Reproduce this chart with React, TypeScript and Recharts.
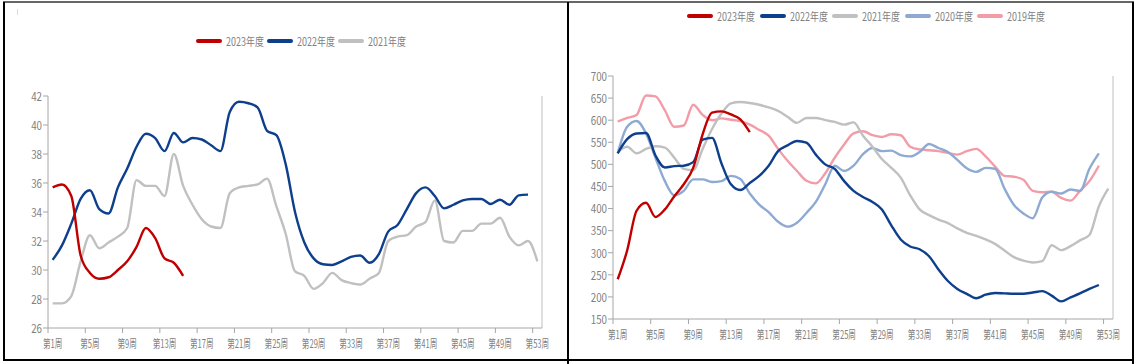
import { Line, LineChart, ReferenceLine, XAxis, YAxis } from "recharts";

// weeks 1..53, labels every 4 weeks
const weeks = Array.from({ length: 53 }, (_, i) => i + 1);
const weekTicks = [1, 5, 9, 13, 17, 21, 25, 29, 33, 37, 41, 45, 49, 53];

// left chart (price)
const leftYTicks = [26, 28, 30, 32, 34, 36, 38, 40, 42];
const left2023 = [35.7, 35.9, 35.1, 31.0, 29.8, 29.4, 29.5, 30.0, 30.6, 31.6, 32.9, 32.2, 30.8, 30.5, 29.6];
const left2022 = [
  30.7, 31.7, 33.2, 34.9, 35.5, 34.2, 33.9, 35.7, 37.0, 38.5,
  39.4, 39.1, 38.2, 39.45, 38.8, 39.1, 39.0, 38.6, 38.2, 40.9,
  41.6, 41.5, 41.2, 39.6, 39.3, 37.3, 34.0, 31.9, 30.8, 30.4,
  30.35, 30.6, 30.9, 31.0, 30.5, 31.1, 32.65, 33.1, 34.2, 35.3,
  35.7, 35.1, 34.25, 34.5, 34.8, 34.9, 34.9, 34.55, 34.85, 34.5,
  35.15, 35.2,
];
const left2021 = [
  27.7, 27.7, 28.2, 30.6, 32.4, 31.5, 31.9, 32.3, 32.9, 36.2,
  35.8, 35.8, 35.1, 38.0, 35.8, 34.5, 33.5, 33.0, 32.9, 35.3,
  35.7, 35.8, 35.9, 36.3, 34.4, 32.5, 29.9, 29.6, 28.7, 29.1,
  29.8, 29.3, 29.1, 29.0, 29.4, 29.8, 32.0, 32.3, 32.4, 33.0,
  33.3, 34.8, 32.0, 31.9, 32.7, 32.7, 33.2, 33.2, 33.6, 32.3,
  31.7, 32.0, 30.6,
];

// right chart (volume)
const rightYTicks = [150, 200, 250, 300, 350, 400, 450, 500, 550, 600, 650, 700];
const right2023 = [240, 305, 395, 413, 381, 398, 428, 455, 492, 568, 617, 620, 613, 602, 573];
const right2022 = [
  525, 557, 570, 571, 520, 493, 496, 497, 505, 556,
  560, 502, 455, 442, 458, 474, 497, 530, 543, 553,
  549, 522, 500, 490, 462, 440, 426, 415, 398, 362,
  330, 314, 308, 292, 262, 236, 218, 207, 197, 205,
  209, 208, 207, 207, 210, 213, 203, 190, 199, 208,
  218, 227,
];
const right2021 = [
  528, 540, 525, 535, 541, 538, 515, 490, 487, 535,
  580, 615, 638, 641, 639, 635, 629, 621, 608, 594,
  605, 605, 600, 596, 590, 595, 565, 540, 512, 492,
  470, 430, 398, 385, 375, 367, 355, 345, 338, 330,
  320, 305, 290, 282, 278, 281, 317, 306, 315, 328,
  340, 405, 445,
];
const right2020 = [
  525, 585, 598, 570, 515, 462, 430, 440, 466, 466,
  460, 462, 474, 467, 434, 409, 392, 370, 359, 368,
  390, 415, 455, 497, 485, 497, 523, 537, 530, 531,
  521, 518, 528, 546, 537, 528, 510, 491, 483, 492,
  490, 445, 408, 389, 378, 425, 438, 434, 443, 440,
  490, 525,
];
const right2019 = [
  597, 605, 612, 656, 654, 622, 585, 588, 635, 612,
  600, 604, 601, 598, 590, 578, 565, 535, 508, 485,
  463, 457, 480, 515, 545, 570, 575, 566, 562, 568,
  566, 540, 534, 532, 530, 526, 522, 530, 535, 518,
  495, 474, 472, 465, 440, 437, 438, 424, 418, 440,
  462, 497,
];

const RED = "#c00000";
const BLUE = "#0e3f8c";
const GRAY = "#c0c0c0";
const LIGHTBLUE = "#8eaad2";
const PINK = "#f29ca8";
const AXIS = "#a6a6a6";
const TEXT = "#808080";
const FONT = '"Liberation Sans Narrow", "Arial Narrow", "Noto Sans CJK SC", sans-serif';
const LINE_W = 2.4;

function buildRows(series: Record<string, number[]>) {
  return weeks.map((w, i) => {
    const row: Record<string, number | undefined> = { week: w };
    for (const key of Object.keys(series)) row[key] = series[key][i];
    return row;
  });
}

const leftRows = buildRows({ y2023: left2023, y2022: left2022, y2021: left2021 });
const rightRows = buildRows({ y2023: right2023, y2022: right2022, y2021: right2021, y2020: right2020, y2019: right2019 });

function WeekTick(props: any) {
  const { x, payload, axisY, half } = props;
  return (
    <g transform={`translate(${x},${axisY})`}>
      <line x1={-half} x2={-half} y1={0} y2={5} stroke={AXIS} />
      <text
        x={0}
        y={15}
        textAnchor="middle"
        dominantBaseline="central"
        fontSize={11.5}
        fill={TEXT}
        fontFamily={FONT}
        transform="scale(0.66,1)"
      >
        {`第${payload.value}周`}
      </text>
    </g>
  );
}

function ValueTick(props: any) {
  const { x, y, payload } = props;
  return (
    <g transform={`translate(${x},${y})`}>
      <text textAnchor="end" dominantBaseline="central" fontSize={11.5} fill={TEXT} fontFamily={FONT} transform="scale(0.85,1)">
        {payload.value}
      </text>
    </g>
  );
}

type LegendItem = { label: string; color: string };

function LegendRow({ items, left, top, step }: { items: LegendItem[]; left: number; top: number; step: number }) {
  return (
    <>
      {items.map((it, i) => (
        <div
          key={it.label}
          style={{ position: "absolute", left: left + i * step, top, display: "flex", alignItems: "center", height: 12 }}
        >
          <span style={{ width: 26, height: 4, borderRadius: 2, background: it.color, marginRight: 4 }} />
          <span
            style={{
              fontFamily: FONT,
              fontSize: 11.5,
              color: TEXT,
              display: "inline-block",
              transform: "scaleX(0.78)",
              transformOrigin: "left center",
              whiteSpace: "nowrap",
            }}
          >
            {it.label}
          </span>
        </div>
      ))}
    </>
  );
}

export default function App() {
  return (
    <div style={{ position: "absolute", left: 0, top: 0, width: 1139, height: 364, background: "#fff", overflow: "hidden" }}>
      {/* frame */}
      <div style={{ position: "absolute", left: 3, top: 1, width: 1131, height: 2, background: "#666" }} />
      <div style={{ position: "absolute", left: 3, top: 2, width: 2, height: 359, background: "#000" }} />
      <div style={{ position: "absolute", left: 567, top: 2, width: 2, height: 362, background: "#000" }} />
      <div style={{ position: "absolute", left: 1132, top: 2, width: 2, height: 362, background: "#000" }} />
      <div style={{ position: "absolute", left: 3, top: 359, width: 1131, height: 2, background: "#000" }} />
      <div style={{ position: "absolute", left: 17, top: 9, width: 1, height: 6, background: "#ddd" }} />

      <LegendRow
        items={[
          { label: "2023年度", color: RED },
          { label: "2022年度", color: BLUE },
          { label: "2021年度", color: GRAY },
        ]}
        left={196}
        top={35}
        step={71}
      />
      <LegendRow
        items={[
          { label: "2023年度", color: RED },
          { label: "2022年度", color: BLUE },
          { label: "2021年度", color: GRAY },
          { label: "2020年度", color: LIGHTBLUE },
          { label: "2019年度", color: PINK },
        ]}
        left={687}
        top={10}
        step={72.5}
      />

      <div style={{ position: "absolute", left: 0, top: 0 }}>
        <LineChart width={568} height={364} data={leftRows} margin={{ top: 96, right: 26, bottom: 16, left: 8 }}>
          <XAxis
            type="number"
            dataKey="week"
            domain={[0.5, 53.5]}
            ticks={weekTicks}
            interval={0}
            height={20}
            tickLine={false}
            axisLine={{ stroke: AXIS }}
            tick={(p: any) => <WeekTick {...p} axisY={328} half={4.66} />}
          />
          <YAxis
            domain={[26, 42]}
            ticks={leftYTicks}
            interval={0}
            width={40}
            tickSize={5}
            tickMargin={1}
            tickLine={{ stroke: AXIS }}
            axisLine={{ stroke: AXIS }}
            tick={(p: any) => <ValueTick {...p} />}
          />
          <ReferenceLine x={53.5} stroke="#bfbfbf" />
          <Line type="monotone" dataKey="y2021" stroke={GRAY} strokeWidth={LINE_W} dot={false} isAnimationActive={false} />
          <Line type="monotone" dataKey="y2022" stroke={BLUE} strokeWidth={LINE_W} dot={false} isAnimationActive={false} />
          <Line type="monotone" dataKey="y2023" stroke={RED} strokeWidth={LINE_W} dot={false} isAnimationActive={false} />
        </LineChart>
      </div>

      <div style={{ position: "absolute", left: 568, top: 0 }}>
        <LineChart width={571} height={364} data={rightRows} margin={{ top: 76, right: 26, bottom: 25, left: 5 }}>
          <XAxis
            type="number"
            dataKey="week"
            domain={[0.5, 53.5]}
            ticks={weekTicks}
            interval={0}
            height={20}
            tickLine={false}
            axisLine={{ stroke: AXIS }}
            tick={(p: any) => <WeekTick {...p} axisY={319} half={4.72} />}
          />
          <YAxis
            domain={[150, 700]}
            ticks={rightYTicks}
            interval={0}
            width={40}
            tickSize={5}
            tickMargin={1}
            tickLine={{ stroke: AXIS }}
            axisLine={{ stroke: AXIS }}
            tick={(p: any) => <ValueTick {...p} />}
          />
          <ReferenceLine x={53.5} stroke="#bfbfbf" />
          <Line type="monotone" dataKey="y2019" stroke={PINK} strokeWidth={LINE_W} dot={false} isAnimationActive={false} />
          <Line type="monotone" dataKey="y2020" stroke={LIGHTBLUE} strokeWidth={LINE_W} dot={false} isAnimationActive={false} />
          <Line type="monotone" dataKey="y2021" stroke={GRAY} strokeWidth={LINE_W} dot={false} isAnimationActive={false} />
          <Line type="monotone" dataKey="y2022" stroke={BLUE} strokeWidth={LINE_W} dot={false} isAnimationActive={false} />
          <Line type="monotone" dataKey="y2023" stroke={RED} strokeWidth={LINE_W} dot={false} isAnimationActive={false} />
        </LineChart>
      </div>
    </div>
  );
}
